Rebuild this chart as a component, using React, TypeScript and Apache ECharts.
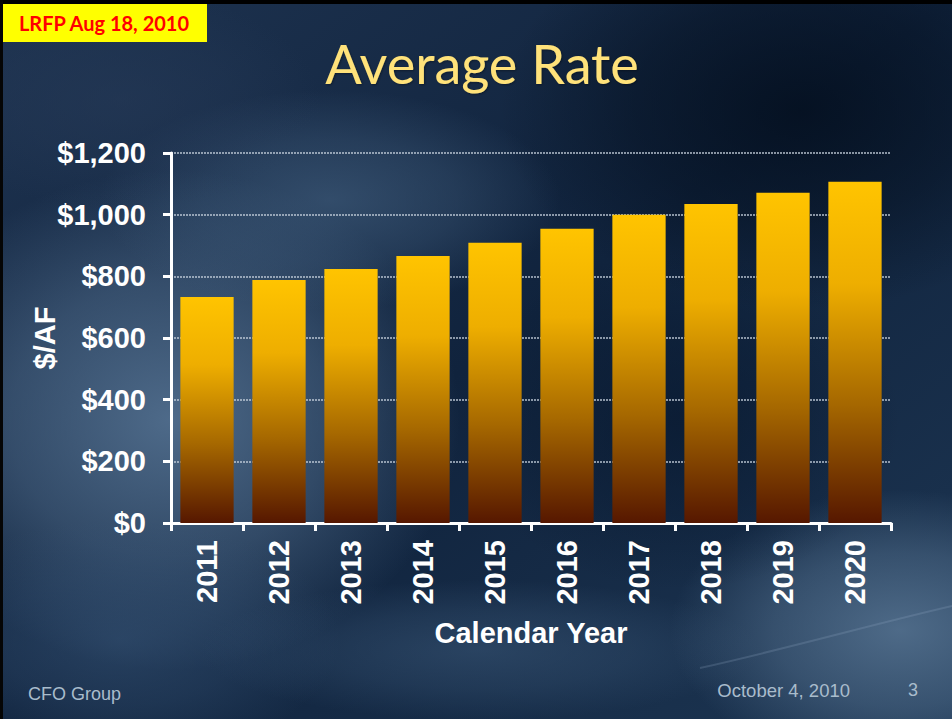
import React, { useEffect, useRef } from "react";
import * as echarts from "echarts";

const categories = ["2011", "2012", "2013", "2014", "2015", "2016", "2017", "2018", "2019", "2020"];
const averageRate = [733, 788, 824, 866, 909, 954, 1000, 1035, 1071, 1107];
const yTicks = [0, 200, 400, 600, 800, 1000, 1200];

const W = 952;
const H = 719;

function radial(cx: number, cy: number, rx: number, ry: number, color: string, a: number, z = -90) {
  return {
    type: "ellipse",
    z,
    silent: true,
    shape: { cx, cy, rx, ry },
    style: {
      fill: new echarts.graphic.RadialGradient(0.5, 0.5, 0.5, [
        { offset: 0, color: `rgba(${color},${a})` },
        { offset: 0.55, color: `rgba(${color},${a * 0.55})` },
        { offset: 1, color: `rgba(${color},0)` },
      ]),
    },
  };
}

export default function App() {
  const ref = useRef<HTMLDivElement>(null);

  useEffect(() => {
    if (!ref.current) return;
    const chart = echarts.init(ref.current, null, { renderer: "svg" });
    const axisFont = "'Liberation Sans', Arial, sans-serif";

    const option: any = {
      animation: false,
      backgroundColor: "#13253e",
      grid: { left: 171, right: 61, top: 153, bottom: 196, containLabel: false },
      xAxis: {
        type: "category",
        data: categories,
        name: "Calendar Year",
        nameLocation: "middle",
        nameGap: 95,
        nameMoveOverlap: false,
        nameTextStyle: { color: "#ffffff", fontFamily: axisFont, fontWeight: "bold", fontSize: 29 },
        axisLine: { show: true, lineStyle: { color: "#ffffff", width: 3 } },
        axisTick: { show: true, alignWithLabel: false, length: 8, lineStyle: { color: "#ffffff", width: 3 } },
        axisLabel: {
          rotate: 90,
          margin: 17,
          color: "#ffffff",
          fontFamily: axisFont,
          fontWeight: "bold",
          fontSize: 29,
        },
        splitLine: { show: false },
      },
      yAxis: {
        type: "value",
        min: yTicks[0],
        max: yTicks[yTicks.length - 1],
        interval: yTicks[1] - yTicks[0],
        name: "$/AF",
        nameLocation: "middle",
        nameGap: 112,
        nameMoveOverlap: false,
        nameTextStyle: { color: "#ffffff", fontFamily: axisFont, fontWeight: "bold", fontSize: 29 },
        axisLine: { show: true, lineStyle: { color: "#ffffff", width: 3 } },
        axisTick: { show: true, length: 8, lineStyle: { color: "#ffffff", width: 3 } },
        axisLabel: {
          margin: 25,
          color: "#ffffff",
          fontFamily: axisFont,
          fontWeight: "bold",
          fontSize: 29,
          formatter: (v: number) => "$" + v.toLocaleString("en-US"),
        },
        splitLine: { show: true, lineStyle: { color: "rgba(200,210,222,0.9)", width: 1.5, type: [2, 1] } },
      },
      series: [
        {
          type: "bar",
          data: averageRate,
          barCategoryGap: "26%",
          itemStyle: {
            color: new echarts.graphic.LinearGradient(0, 0, 0, 1, [
              { offset: 0, color: "#ffc400" },
              { offset: 0.3, color: "#eeae00" },
              { offset: 0.65, color: "#a66800" },
              { offset: 1, color: "#561700" },
            ]),
          },
        },
      ],
      graphic: [
        {
          type: "rect",
          z: -100,
          silent: true,
          shape: { x: 0, y: 0, width: W, height: H },
          style: {
            fill: new echarts.graphic.LinearGradient(0, 0, 1, 1, [
              { offset: 0, color: "#1e3350" },
              { offset: 0.5, color: "#10233d" },
              { offset: 1, color: "#1d3653" },
            ]),
          },
        },
        radial(170, 420, 290, 250, "88,118,150", 0.85),
        radial(330, 200, 230, 110, "70,100,132", 0.6),
        radial(120, 640, 220, 120, "55,85,120", 0.6),
        radial(480, 650, 280, 70, "62,92,125", 0.5),
        radial(900, 630, 230, 140, "95,125,155", 0.75),
        radial(800, 110, 300, 200, "2,12,26", 0.75),
        radial(680, 420, 220, 170, "6,22,44", 0.6),
        radial(120, 100, 200, 110, "40,60,90", 0.5),
        {
          type: "bezierCurve",
          z: -80,
          silent: true,
          shape: { x1: 700, y1: 668, x2: 952, y2: 606, cpx1: 790, cpy1: 648, cpx2: 870, cpy2: 625 },
          style: { stroke: "rgba(150,175,200,0.22)", lineWidth: 2, fill: "none" },
        },
        { type: "rect", z: 50, silent: true, shape: { x: 0, y: 0, width: W, height: 4 }, style: { fill: "#000000" } },
        { type: "rect", z: 50, silent: true, shape: { x: 0, y: 0, width: 3, height: H }, style: { fill: "#050505" } },
        {
          type: "rect",
          z: 60,
          silent: true,
          shape: { x: 3, y: 4, width: 204, height: 38 },
          style: { fill: "#ffff00" },
        },
        {
          type: "text",
          z: 61,
          silent: true,
          x: 104,
          y: 23,
          style: {
            text: "LRFP Aug 18, 2010",
            fill: "#ff0000",
            font: "bold 20px Lato, 'Open Sans', sans-serif",
            align: "center",
            verticalAlign: "middle",
          },
        },
        {
          type: "text",
          z: 60,
          silent: true,
          x: 482,
          y: 63,
          style: {
            text: "Average Rate",
            fill: "#ffe27a",
            textShadowColor: "rgba(0,0,0,0.35)",
            textShadowBlur: 2,
            textShadowOffsetX: 1,
            textShadowOffsetY: 1,
            font: "54px Lato, 'Open Sans', sans-serif",
            align: "center",
            verticalAlign: "middle",
          },
        },
        {
          type: "text",
          z: 60,
          silent: true,
          x: 28,
          y: 694,
          style: {
            text: "CFO Group",
            fill: "#a9bccc",
            font: "18px 'Liberation Sans', Arial, sans-serif",
            align: "left",
            verticalAlign: "middle",
          },
        },
        {
          type: "text",
          z: 60,
          silent: true,
          x: 850,
          y: 690,
          style: {
            text: "October 4, 2010",
            fill: "#a9bccc",
            font: "18.5px 'Liberation Sans', Arial, sans-serif",
            align: "right",
            verticalAlign: "middle",
          },
        },
        {
          type: "text",
          z: 60,
          silent: true,
          x: 913,
          y: 690,
          style: {
            text: "3",
            fill: "#a9bccc",
            font: "18px 'Liberation Sans', Arial, sans-serif",
            align: "center",
            verticalAlign: "middle",
          },
        },
      ],
    };

    chart.setOption(option);
    return () => chart.dispose();
  }, []);

  return (
    <div
      ref={ref}
      style={{ position: "fixed", left: 0, top: 0, width: W, height: H }}
    />
  );
}
